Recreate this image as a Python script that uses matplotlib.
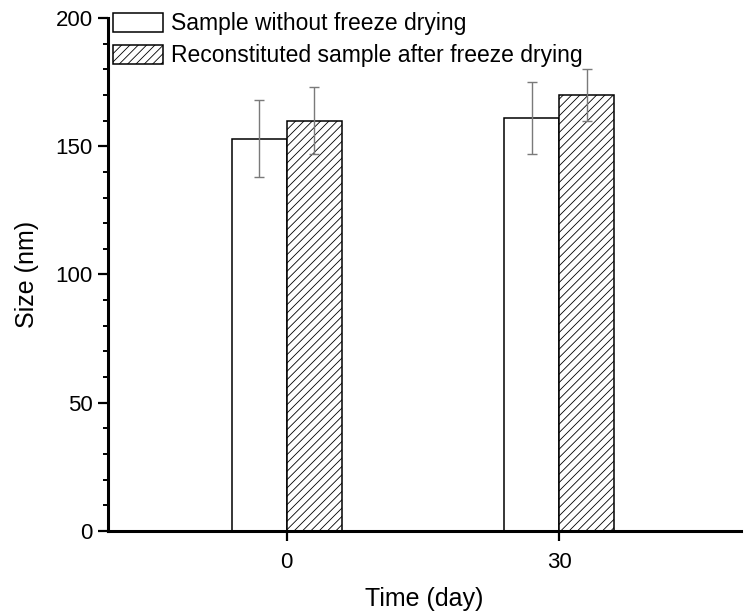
import matplotlib
matplotlib.use("Agg")
import matplotlib.pyplot as plt
import numpy as np
from matplotlib.ticker import MultipleLocator

plt.rcParams['font.family'] = ['Liberation Sans', 'DejaVu Sans']
plt.rcParams['hatch.linewidth'] = 0.6
plt.rcParams['hatch.color'] = '#444444'

days = [0, 30]
series_names = ["Sample without freeze drying", "Reconstituted sample after freeze drying"]
without_fd = [153, 161]
without_fd_err = [15, 14]
after_fd = [160, 170]
after_fd_err = [13, 10]

fig = plt.figure(figsize=(7.49, 6.16), dpi=100)
ax = fig.add_axes([0.1442, 0.138, 0.9893 - 0.1442, 0.9708 - 0.138])

x = np.array(days, dtype=float)
w = 6.06
err_kw = dict(ecolor='#7a7a7a', elinewidth=1.0, capsize=3.6, capthick=1.0)
ax.bar(x - w / 2, without_fd, width=w, color='white', edgecolor='black', linewidth=1.1,
       yerr=without_fd_err, error_kw=err_kw, label=series_names[0])
ax.bar(x + w / 2, after_fd, width=w, color='white', edgecolor='black', linewidth=1.1,
       hatch='////', yerr=after_fd_err, error_kw=err_kw, label=series_names[1])

ax.set_xlim(-19.7, 50.05)
ax.set_ylim(0, 200)
ax.set_xticks(days)
ax.set_xticklabels([str(d) for d in days])
ax.yaxis.set_major_locator(MultipleLocator(50))
ax.yaxis.set_minor_locator(MultipleLocator(10))

for s in ['top', 'right']:
    ax.spines[s].set_visible(False)
for s in ['left', 'bottom']:
    ax.spines[s].set_linewidth(2.2)

ax.tick_params(axis='both', which='major', direction='out', length=7, width=1.6, labelsize=16, pad=4)
ax.tick_params(axis='y', which='minor', direction='out', length=3.6, width=1.4)
ax.tick_params(axis='x', which='major', pad=8)

ax.set_xlabel("Time (day)", fontsize=18, labelpad=10)
ax.set_ylabel("Size (nm)", fontsize=18, labelpad=12)

leg = ax.legend(loc='upper left', bbox_to_anchor=(0.0, 1.02), frameon=False, fontsize=16.5,
                handlelength=2.2, handleheight=0.9, handletextpad=0.35, labelspacing=0.4,
                borderaxespad=0.0, borderpad=0.2)

fig.savefig("out.png", dpi=100)
